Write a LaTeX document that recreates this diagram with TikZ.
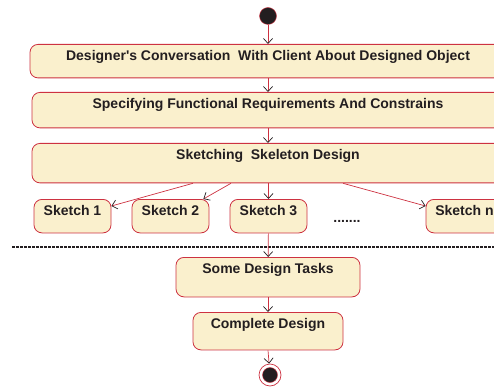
\documentclass[tikz,border=0pt]{standalone}
\usepackage{fontspec}
\setmainfont{Liberation Sans}
\usetikzlibrary{arrows.meta}

\definecolor{actfill}{RGB}{250,240,205}
\definecolor{actline}{RGB}{205,50,65}
\definecolor{actdark}{RGB}{35,30,32}

\begin{document}
\begin{tikzpicture}[x=1pt,y=-1pt,
	act/.style={draw=actline, fill=actfill, rounded corners=8pt, line width=0.8pt,
		anchor=north, inner xsep=0pt, inner ysep=6pt, text height=10.5pt,
		font=\fontsize{14}{16}\selectfont\bfseries, text=actdark},
	flow/.style={draw=actline, line width=0.7pt, -{Straight Barb[length=5pt,width=9pt,color=actdark,line width=0.7pt]}}]
	\useasboundingbox (0,0) rectangle (494,387);

	% Start
	\node[circle, draw=actline, fill=actdark, minimum size=17pt, inner sep=0pt] (start) at (268,16) {};

	% Activities
	\node[act, minimum width=476pt, text depth=11pt] (talk) at (268,44) {Designer\textquotesingle s Conversation\ \ With Client About Designed Object};
	\node[act, minimum width=472pt, text depth=13pt] (spec) at (268,92) {Specifying Functional Requirements And Constrains};
	\node[act, minimum width=472pt, text depth=17pt] (skel) at (268,143) {Sketching\ \ Skeleton Design};

	% Sketches
	\node[act, minimum width=77pt, text depth=11pt] (s1) at (72.5,199) {Sketch 1};
	\node[act, minimum width=77pt, text depth=11pt] (s2) at (170.5,199) {Sketch 2};
	\node[act, minimum width=77pt, text depth=11pt] (s3) at (268.5,199) {Sketch 3};
	\node[act, minimum width=77pt, text depth=11pt] (sn) at (464.5,199) {Sketch n};
	\node[font=\fontsize{14}{16}\selectfont\bfseries, text=actdark, inner sep=0pt] (dots) at (347,221) {.......};

	% Separator
	\draw[actdark, line width=1.3pt, dash pattern=on 3pt off 1pt] (12,247) -- (494,247);

	% Final activities
	\node[act, minimum width=184pt, text depth=17pt] (tasks) at (268,257) {Some Design Tasks};
	\node[act, minimum width=150pt, text depth=15pt] (done) at (268,312) {Complete Design};

	% End
	\node[circle, draw=actline, fill=white, minimum size=22pt, inner sep=0pt, line width=0.7pt] (stop) at (270,375) {};
	\node[circle, draw=actline, fill=actdark, minimum size=15pt, inner sep=0pt] at (stop) {};

	% Flow
	\draw[flow] (start) -- (talk);
	\draw[flow] (talk) -- (spec);
	\draw[flow] (spec) -- (skel);
	\draw[flow] ([xshift=-75pt]skel.south) -- ([yshift=-7pt]s1.north east);
	\draw[flow] ([xshift=-37pt]skel.south) -- ([xshift=-6pt]s2.north east);
	\draw[flow] (skel.south -| s3) -- (s3);
	\draw[flow] ([xshift=75pt]skel.south) -- ([yshift=-7pt]sn.north west);
	\draw[flow] (s3) -- (tasks);
	\draw[flow] (tasks) -- (done);
	\draw[flow] (done.south) -- (stop);

\end{tikzpicture}
\end{document}
